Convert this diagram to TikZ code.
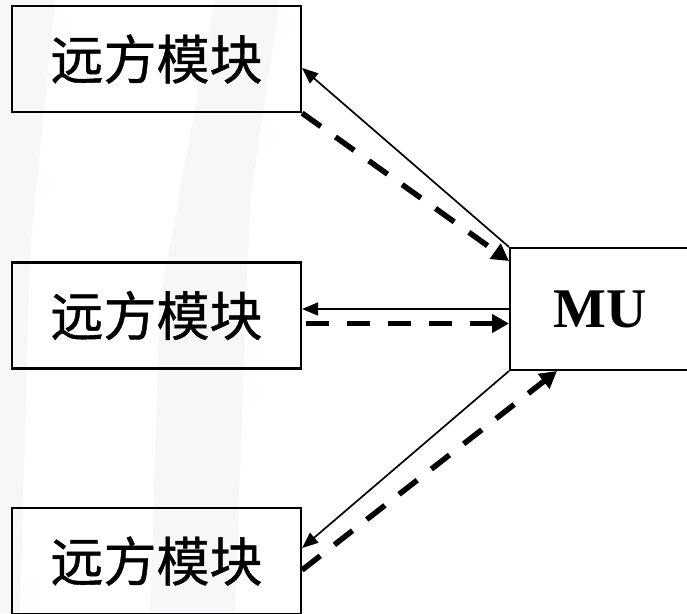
\documentclass[tikz,border=0pt]{standalone}
\usepackage{fontspec}
\setmainfont{Liberation Serif}
\newfontfamily\cjk[FakeBold=0.8]{Noto Sans CJK SC}
\usetikzlibrary{arrows.meta,calc}
\definecolor{streak}{RGB}{246,247,249}
\tikzset{
  modbox/.style={draw=black, line width=2.2pt, fill=none, minimum width=289pt, minimum height=106pt, inner sep=0pt, font=\cjk\fontsize{53}{53}\selectfont},
  mubox/.style={draw=black, line width=2pt, minimum width=180pt, minimum height=122pt, inner sep=0pt, font=\bfseries\fontsize{56}{56}\selectfont},
  solidarrow/.style={line width=1.7pt, -{Triangle[length=16pt,width=13pt]}},
  dasharrow/.style={line width=5.5pt, dash pattern=on 23pt off 18pt, -{Triangle[length=17pt,width=18pt]}},
}
\begin{document}
\begin{tikzpicture}[x=1pt,y=-1pt]
\useasboundingbox (0,0) rectangle (687,613);
\fill[white] (0,0) rectangle (687,613);
% faint background streaks
\fill[streak] (0,0) -- (55,0) -- (30,250) -- (20,613) -- (0,613) -- cycle;
\fill[streak] (215,0) -- (280,0) -- (250,200) -- (235,613) -- (150,613) -- (160,300) -- cycle;
% nodes
\node[modbox] (b1) at (156.5,59) {远方模块};
\node[modbox] (b2) at (156.5,315.5) {远方模块};
\node[modbox] (b3) at (156.5,561) {远方模块};
\node[mubox] (mu) at (600,309) {MU};
% connectors
\draw[solidarrow] (mu.north west) -- ($(b1.east)+(0,9)$);
\draw[dasharrow] (b1.south east) -- ($(mu.north west)+(0,14)$);
\draw[solidarrow] (mu.west) -- ($(b2.east)+(0,-6.5)$);
\draw[dasharrow] ($(b2.east)+(4,8)$) -- ($(mu.west)+(0,14.5)$);
\draw[solidarrow] (mu.south west) -- ($(b3.east)+(0,-13)$);
\draw[dasharrow] ($(b3.east)+(0,9)$) -- ($(mu.south west)+(48,0)$);
\end{tikzpicture}
\end{document}
